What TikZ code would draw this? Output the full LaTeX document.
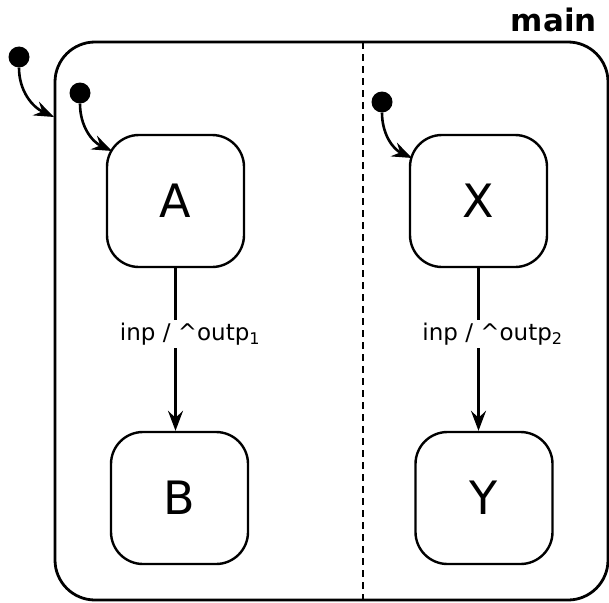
\documentclass[tikz,border=0pt]{standalone}
\usepackage{fontspec}
\setmainfont{DejaVu Sans}
\usetikzlibrary{arrows.meta}
\begin{document}
\begin{tikzpicture}[x=1pt,y=1pt,
  statebox/.style={draw, line width=2.4pt, rounded corners=32pt, minimum width=137pt, minimum height=132pt, inner sep=0pt, font=\fontsize{46}{50}\selectfont},
  initdot/.style={circle, fill=black, minimum size=21pt, inner sep=0pt},
  arr/.style={line width=2.6pt, -{Stealth[length=20pt,width=15pt,inset=7pt]}},
  lbl/.style={fill=white, inner sep=3pt, font=\fontsize{23}{26}\selectfont},
  divider/.style={line width=2.4pt, dash pattern=on 7pt off 5pt}]
\useasboundingbox (0,0) rectangle (609,-602);
\node[draw, line width=2.8pt, rounded corners=40pt, minimum width=553pt, minimum height=558pt, inner sep=0pt] (outer) at (331.5,-321) {};
\node[font=\bfseries\fontsize{31}{34}\selectfont, anchor=base east, inner sep=0pt] (title) at (597,-31) {main};
\coordinate (dtop) at (363,-42);
\coordinate (dbot) at (363,-600);
\draw[divider] (dtop) -- (dbot);
\node[statebox] (A) at (175.5,-201) {A};
\node[statebox] (B) at (179.5,-498) {B};
\node[statebox] (X) at (478.5,-201) {X};
\node[statebox] (Y) at (484,-498) {Y};
\node[initdot] (i0) at (19,-57) {};
\node[initdot] (iA) at (80,-93) {};
\node[initdot] (iX) at (382,-102) {};
\coordinate (t0) at (54,-117);
\coordinate (tA) at (112,-151);
\coordinate (tX) at (412,-158);
\draw[arr] (i0) to[out=-90,in=155] (t0);
\draw[arr] (iA) to[out=-90,in=155] (tA);
\draw[arr] (iX) to[out=-90,in=155] (tX);
\draw[arr] (A.south) -- (A.south |- B.north);
\draw[arr] (X.south) -- (X.south |- Y.north);
\node[lbl] (l1) at (190,-334) {inp / \textasciicircum outp\textsubscript{1}};
\node[lbl] (l2) at (492.5,-334) {inp / \textasciicircum outp\textsubscript{2}};
\end{tikzpicture}
\end{document}
